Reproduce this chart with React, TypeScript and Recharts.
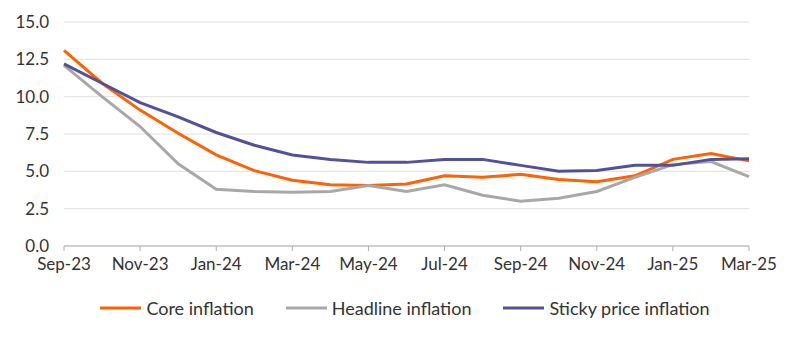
import React from "react";
import { LineChart, Line, XAxis, YAxis, CartesianGrid, Legend } from "recharts";

const months = [
  "Sep-23", "Oct-23", "Nov-23", "Dec-23", "Jan-24", "Feb-24", "Mar-24",
  "Apr-24", "May-24", "Jun-24", "Jul-24", "Aug-24", "Sep-24", "Oct-24",
  "Nov-24", "Dec-24", "Jan-25", "Feb-25", "Mar-25",
];

const core = [
  13.1, 10.9, 9.1, 7.55, 6.1, 5.05, 4.4, 4.1, 4.05, 4.15, 4.7, 4.6, 4.8, 4.45,
  4.3, 4.7, 5.8, 6.2, 5.7,
];

const headline = [
  12.1, 10.0, 8.0, 5.5, 3.8, 3.65, 3.6, 3.65, 4.05, 3.65, 4.1, 3.4, 3.0, 3.2,
  3.65, 4.6, 5.45, 5.65, 4.65,
];

const sticky = [
  12.2, 10.9, 9.6, 8.65, 7.6, 6.75, 6.1, 5.8, 5.6, 5.6, 5.8, 5.8, 5.4, 5.0,
  5.05, 5.4, 5.4, 5.8, 5.85,
];

const yTicks = [0, 2.5, 5, 7.5, 10, 12.5, 15];

const series = [
  { key: "core", name: "Core inflation", color: "#ff6200" },
  { key: "headline", name: "Headline inflation", color: "#a8a8a8" },
  { key: "sticky", name: "Sticky price inflation", color: "#525199" },
];

const data = months.map((m, i) => ({
  month: m,
  core: core[i],
  headline: headline[i],
  sticky: sticky[i],
}));

const font = "Lato, 'Noto Sans', sans-serif";

function LegendContent() {
  return (
    <div style={{ display: "flex", justifyContent: "center", fontFamily: font, fontSize: 18, color: "#333" }}>
      {series.map((s) => (
        <div key={s.key} style={{ display: "flex", alignItems: "center", margin: "0 16px" }}>
          <svg width={41} height={6} style={{ marginRight: 5 }}>
            <line x1={0} y1={3} x2={41} y2={3} stroke={s.color} strokeWidth={3} />
          </svg>
          <span>{s.name}</span>
        </div>
      ))}
    </div>
  );
}

export default function App() {
  return (
    <LineChart width={792} height={325} data={data} margin={{ top: 14, right: 51, left: 0, bottom: 35 }}>
      <CartesianGrid vertical={false} stroke="#e0e0e0" />
      <XAxis
        dataKey="month"
        interval={1}
        tickSize={5}
        tickMargin={7}
        height={30}
        axisLine={{ stroke: "#b0b0b0" }}
        tickLine={{ stroke: "#b0b0b0" }}
        tick={{ fill: "#333", fontSize: 17, fontFamily: font }}
      />
      <YAxis
        domain={[0, 15]}
        ticks={yTicks}
        width={56}
        tickSize={0}
        tickMargin={15}
        axisLine={false}
        tickLine={false}
        tickFormatter={(v: number) => v.toFixed(1)}
        tick={{ fill: "#333", fontSize: 17, fontFamily: font }}
      />
      <Legend
        content={<LegendContent />}
        wrapperStyle={{ left: 0, width: 794, top: 289 }}
      />
      {series.map((s) => (
        <Line
          key={s.key}
          type="linear"
          dataKey={s.key}
          name={s.name}
          stroke={s.color}
          strokeWidth={3}
          dot={false}
          isAnimationActive={false}
        />
      ))}
    </LineChart>
  );
}
